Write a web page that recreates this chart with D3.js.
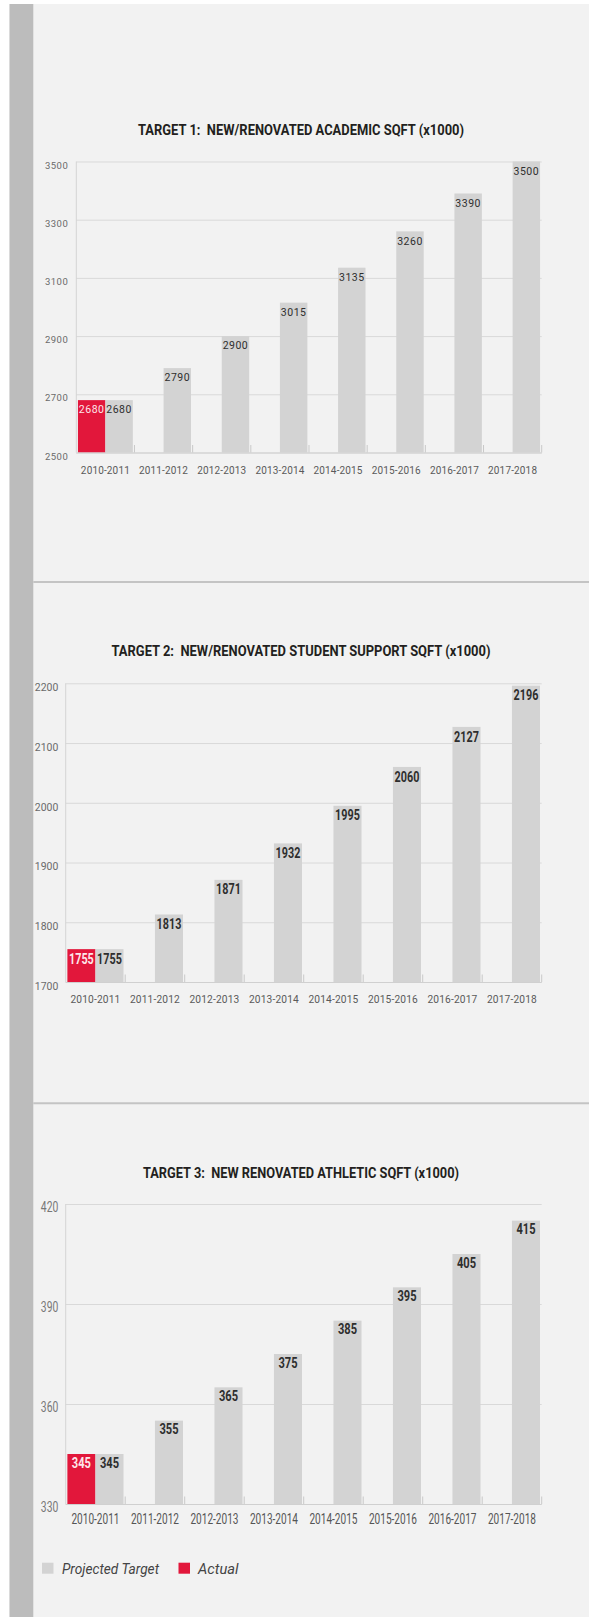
<!DOCTYPE html>
<html>
<head>
<meta charset="utf-8">
<script src="https://cdn.jsdelivr.net/npm/d3@7"></script>
<style>
  html, body { margin: 0; padding: 0; background: #ffffff; }
  svg { display: block; }
  text { font-family: Roboto, "Open Sans", sans-serif; }
  .title { white-space: pre; }
</style>
</head>
<body>
<div id="chart"></div>
<script>
// ---- data ----
const years = ["2010-2011", "2011-2012", "2012-2013", "2013-2014", "2014-2015", "2015-2016", "2016-2017", "2017-2018"];
const seriesNames = ["Actual", "Projected Target"];

const academicProjected = [2680, 2790, 2900, 3015, 3135, 3260, 3390, 3500];
const academicActual = [2680];
const academicTicks = [2500, 2700, 2900, 3100, 3300, 3500];

const supportProjected = [1755, 1813, 1871, 1932, 1995, 2060, 2127, 2196];
const supportActual = [1755];
const supportTicks = [1700, 1800, 1900, 2000, 2100, 2200];

const athleticProjected = [345, 355, 365, 375, 385, 395, 405, 415];
const athleticActual = [345];
const athleticTicks = [330, 360, 390, 420];

const titles = [
  "TARGET 1:  NEW/RENOVATED ACADEMIC SQFT (x1000)",
  "TARGET 2:  NEW/RENOVATED STUDENT SUPPORT SQFT (x1000)",
  "TARGET 3:  NEW RENOVATED ATHLETIC SQFT (x1000)"
];

// ---- page ----
const W = 589, H = 1617;
const RED = "#e2173b", GREY = "#d3d3d3";

const svg = d3.select("#chart").append("svg")
  .attr("width", W).attr("height", H);

svg.append("rect").attr("width", W).attr("height", H).attr("fill", "#ffffff");
svg.append("rect").attr("x", 9.5).attr("y", 4).attr("width", W - 9.5).attr("height", H - 4).attr("fill", "#f2f2f2");
svg.append("rect").attr("x", 9.5).attr("y", 4).attr("width", 23.8).attr("height", H - 4).attr("fill", "#bcbcbc");

[582, 1103.3].forEach(y => {
  svg.append("line").attr("x1", 33.3).attr("x2", W).attr("y1", y).attr("y2", y)
    .attr("stroke", "#c4c4c4").attr("stroke-width", 2);
});

// condensed text helper: draws text whose glyphs are squeezed horizontally
function ctext(g, x, y, str, o) {
  return g.append("text")
    .attr("transform", `translate(${x},${y}) scale(${o.sx || 1},1)`)
    .attr("text-anchor", o.anchor || "middle")
    .attr("font-size", o.size)
    .attr("font-weight", o.weight || 400)
    .attr("font-style", o.style || "normal")
    .attr("letter-spacing", o.ls || 0)
    .attr("fill", o.fill || "#333")
    .text(str);
}

function drawChart(cfg) {
  const g = svg.append("g");

  const y = d3.scaleLinear().domain(cfg.domain).range([cfg.bottom, cfg.top]);
  const x0 = d3.scaleBand().domain(years).range([cfg.left, cfg.right]).padding(0);
  const x1 = d3.scaleBand().domain(seriesNames).range([0, x0.bandwidth()]).paddingInner(0).paddingOuter(0.06);

  // title
  g.append("text")
    .attr("class", "title")
    .attr("xml:space", "preserve")
    .attr("x", 301).attr("y", cfg.titleY + 5)
    .attr("text-anchor", "middle")
    .attr("font-size", 13.8).attr("font-weight", 700)
    .attr("fill", "#231f20")
    .attr("textLength", cfg.titleW).attr("lengthAdjust", "spacingAndGlyphs")
    .text(cfg.title);

  // gridlines
  const grid = g.append("g")
    .attr("transform", `translate(${cfg.left},0)`)
    .call(d3.axisLeft(y).tickValues(cfg.ticks).tickSize(-(cfg.right - cfg.left)).tickFormat(""));
  grid.select(".domain").remove();
  grid.selectAll(".tick line").attr("stroke", "#d9d9d9").attr("stroke-width", 1);

  // left border
  g.append("line").attr("x1", cfg.left).attr("x2", cfg.left)
    .attr("y1", cfg.top).attr("y2", cfg.bottom)
    .attr("stroke", "#d4d4d4").attr("stroke-width", 1);

  // y labels
  cfg.ticks.forEach(v => {
    ctext(g, cfg.left - cfg.yLab.gap, y(v) + cfg.yLab.off + 0.36 * cfg.yLab.size, v, {
      anchor: "end", size: cfg.yLab.size, sx: cfg.yLab.sx, ls: cfg.yLab.ls, fill: cfg.yLab.fill
    });
  });

  // bars
  const proj = years.map((yr, i) => ({ yr, v: cfg.projected[i], s: "Projected Target" }));
  const act = cfg.actual.map((v, i) => ({ yr: years[i], v, s: "Actual" }));
  const all = act.concat(proj);

  g.selectAll(null).data(all).enter().append("rect")
    .attr("x", d => x0(d.yr) + x1(d.s))
    .attr("width", x1.bandwidth())
    .attr("y", d => y(d.v))
    .attr("height", d => y(cfg.domain[0]) - y(d.v))
    .attr("fill", d => d.s === "Actual" ? RED : GREY);

  // baseline and band ticks
  g.append("line").attr("x1", cfg.left).attr("x2", cfg.right)
    .attr("y1", cfg.bottom + 0.5).attr("y2", cfg.bottom + 0.5)
    .attr("stroke", "#d0d0d0").attr("stroke-width", 1);
  const edges = years.slice(1).map(yr => x0(yr)).concat([cfg.right]);
  g.selectAll(null).data(edges).enter().append("line")
    .attr("x1", d => d).attr("x2", d => d)
    .attr("y1", cfg.bottom).attr("y2", cfg.bottom - 7.5)
    .attr("stroke", "#c9c9c9").attr("stroke-width", 1);

  // value labels
  all.forEach(d => {
    const cx = x0(d.yr) + x1(d.s) + x1.bandwidth() / 2;
    ctext(g, cx, y(d.v) + cfg.val.off + 0.36 * cfg.val.size, d.v, {
      size: cfg.val.size, weight: cfg.val.weight, sx: cfg.val.sx, ls: cfg.val.ls,
      fill: d.s === "Actual" ? "#fde6ea" : "#2e2e2e"
    });
  });

  // category labels
  years.forEach(yr => {
    ctext(g, x0(yr) + x0.bandwidth() / 2, cfg.xLab.y + 0.36 * cfg.xLab.size, yr, {
      size: cfg.xLab.size, sx: cfg.xLab.sx, ls: cfg.xLab.ls, fill: cfg.xLab.fill
    });
  });
}

drawChart({
  title: titles[0], titleY: 130, titleW: 326,
  left: 76.3, right: 541.7, top: 161.5, bottom: 452.5,
  domain: [2500, 3500], ticks: academicTicks,
  projected: academicProjected, actual: academicActual,
  yLab: { size: 9.5, sx: 1, ls: 0.5, gap: 8, off: 3.7, fill: "#6a6a6a" },
  xLab: { y: 470.7, size: 10, sx: 1, ls: 0.15, fill: "#5a5a5a" },
  val: { size: 10.5, weight: 400, sx: 1, ls: 0.5, off: 9.5 }
});

drawChart({
  title: titles[1], titleY: 650.7, titleW: 379,
  left: 65.7, right: 541.7, top: 683.3, bottom: 982,
  domain: [1700, 2200], ticks: supportTicks,
  projected: supportProjected, actual: supportActual,
  yLab: { size: 11, sx: 0.95, ls: 0, gap: 7.4, off: 4, fill: "#6a6a6a" },
  xLab: { y: 999.3, size: 10.2, sx: 1, ls: 0.15, fill: "#5a5a5a" },
  val: { size: 15, weight: 700, sx: 0.72, ls: 0, off: 9.2 }
});

drawChart({
  title: titles[2], titleY: 1172.7, titleW: 316,
  left: 65.7, right: 541.7, top: 1204, bottom: 1504,
  domain: [330, 420], ticks: athleticTicks,
  projected: athleticProjected, actual: athleticActual,
  yLab: { size: 14, sx: 0.74, ls: 0, gap: 7.4, off: 2.8, fill: "#777" },
  xLab: { y: 1519.3, size: 14, sx: 0.72, ls: 0, fill: "#555" },
  val: { size: 15, weight: 700, sx: 0.74, ls: 0, off: 8.3 }
});

// legend
const lg = svg.append("g");
const legendItems = [
  { name: "Projected Target", color: GREY, x: 42, tx: 62, tw: 97 },
  { name: "Actual", color: RED, x: 178.5, tx: 198, tw: 40.5 }
];
legendItems.forEach(it => {
  lg.append("rect").attr("x", it.x).attr("y", 1562.7).attr("width", 11.5).attr("height", 11)
    .attr("fill", it.color);
  lg.append("text").attr("x", it.tx).attr("y", 1568.2 + 0.36 * 15.5)
    .attr("font-size", 15.5).attr("font-style", "italic").attr("fill", "#444")
    .attr("textLength", it.tw).attr("lengthAdjust", "spacingAndGlyphs")
    .text(it.name);
});
</script>
</body>
</html>
